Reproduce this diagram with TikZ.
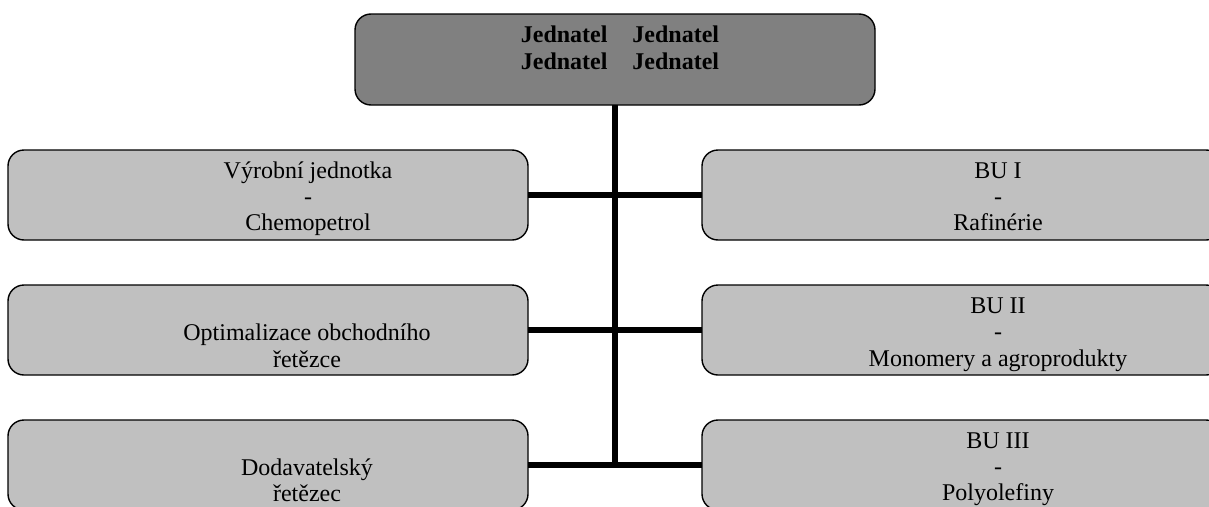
\documentclass[tikz,border=0pt]{standalone}
\usepackage{fontspec}
\setmainfont{Liberation Serif}
\definecolor{topgray}{HTML}{808080}
\definecolor{boxgray}{HTML}{C0C0C0}
\begin{document}
\begin{tikzpicture}[x=1pt,y=-1pt,
  box/.style={draw=black, line width=1.4pt, rounded corners=16pt, fill=boxgray,
    minimum width=520pt, minimum height=90pt, anchor=north west, inner sep=0pt, outer sep=0pt},
  topbox/.style={box, fill=topgray, minimum height=91pt},
  conn/.style={line width=6.5pt, draw=black},
  txt/.style={anchor=base, inner sep=0pt, font=\fontsize{24}{26}\selectfont},
  btxt/.style={txt, font=\fontsize{24}{26}\selectfont\bfseries}]
\useasboundingbox (0,0) rectangle (1209,506);
\clip (0,0) rectangle (1209,506);
% boxes
\node[topbox] (top) at (355,14) {};
\node[box] (l1) at (8,150) {};
\node[box] (l2) at (8,285) {};
\node[box] (l3) at (8,420) {};
\node[box] (r1) at (702,150) {};
\node[box] (r2) at (702,285) {};
\node[box] (r3) at (702,420) {};
% connectors
\coordinate (vend) at (615,468);
\draw[conn] (top.south) -- (vend);
\draw[conn] (l1.east) -- (r1.west);
\draw[conn] (l2.east) -- (r2.west);
\draw[conn] (l3.east) -- (r3.west);
% texts
\node[btxt] (t1) at (620,42) {Jednatel\hspace{25pt}Jednatel};
\node[btxt] (t2) at (620,69) {Jednatel\hspace{25pt}Jednatel};
\node[txt] (l1a) at (308,178) {Výrobní jednotka};
\node[txt] (l1b) at (308,204) {-};
\node[txt] (l1c) at (308,230) {Chemopetrol};
\node[txt] (l2a) at (307,340) {Optimalizace obchodního};
\node[txt] (l2b) at (307,367) {řetězce};
\node[txt] (l3a) at (307,475) {Dodavatelský};
\node[txt] (l3b) at (307,501) {řetězec};
\node[txt] (r1a) at (998,178) {BU I};
\node[txt] (r1b) at (998,204) {-};
\node[txt] (r1c) at (998,230) {Rafinérie};
\node[txt] (r2a) at (998,313) {BU II};
\node[txt] (r2b) at (998,339) {-};
\node[txt] (r2c) at (998,366) {Monomery a agroprodukty};
\node[txt] (r3a) at (998,448) {BU III};
\node[txt] (r3b) at (998,474) {-};
\node[txt] (r3c) at (998,500) {Polyolefiny};
\end{tikzpicture}
\end{document}
